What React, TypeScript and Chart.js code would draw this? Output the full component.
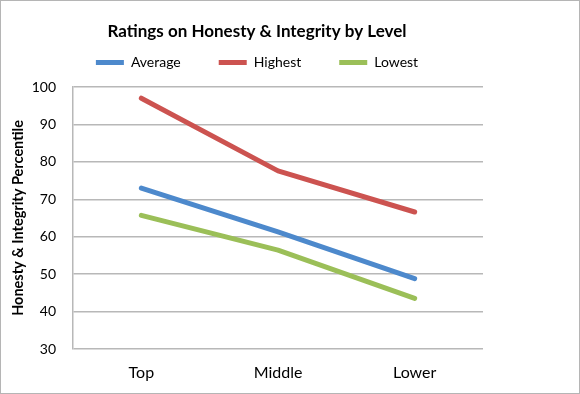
import React, { useEffect, useRef } from "react";
import { Chart, registerables } from "chart.js";

Chart.register(...registerables);

const categories = ["Top", "Middle", "Lower"];
const averageValues = [73.0, 61.3, 48.8];
const highestValues = [97.0, 77.6, 66.6];
const lowestValues = [65.7, 56.4, 43.5];
const yTicks = [30, 40, 50, 60, 70, 80, 90, 100];

const FONT = "Lato, 'Open Sans', sans-serif";

export default function App() {
  const ref = useRef<HTMLCanvasElement | null>(null);

  useEffect(() => {
    if (!ref.current) return;
    const mk = (label: string, data: number[], color: string) => ({
      label,
      data,
      borderColor: color,
      backgroundColor: color,
      borderWidth: 5,
      borderCapStyle: "round" as const,
      borderJoinStyle: "round" as const,
      pointRadius: 0,
      pointHoverRadius: 0,
      pointStyle: "line" as const,
      tension: 0,
    });
    const chart = new Chart(ref.current, {
      type: "line",
      data: {
        labels: categories,
        datasets: [
          mk("Average", averageValues, "#4d89cc"),
          mk("Highest", highestValues, "#cc5350"),
          mk("Lowest", lowestValues, "#9bbf58"),
        ],
      },
      options: {
        animation: false,
        responsive: false,
        maintainAspectRatio: false,
        layout: { padding: { left: 30, right: 96, top: 0, bottom: 11 } },
        plugins: {
          tooltip: { enabled: false },
          title: {
            display: true,
            text: "Ratings on Honesty & Integrity by Level",
            color: "#000",
            font: { family: FONT, size: 17, weight: "bold" },
            padding: { top: 20, bottom: -23.9 },
            align: "center",
          },
          subtitle: {
            display: true,
            text: "",
            font: { size: 1, lineHeight: 1 },
            padding: { top: 6.5, bottom: 0 },
          },
          legend: {
            display: true,
            weight: 1800,
            labels: {
              usePointStyle: true,
              pointStyleWidth: 28,
              boxHeight: 14,
              color: "#000",
              font: { family: FONT, size: 14 },
              padding: 38,
            },
          } as any,
        },
        scales: {
          x: {
            offset: true,
            grid: { display: false, drawTicks: false },
            border: { display: false },
            afterFit: (axis: any) => {
              axis.height = 33;
            },
            ticks: {
              color: "#000",
              font: { family: FONT, size: 16 },
              padding: 14,
            },
          },
          y: {
            min: 30,
            max: 100,
            afterBuildTicks: (axis: any) => {
              axis.ticks = yTicks.map((v) => ({ value: v }));
            },
            afterFit: (axis: any) => {
              axis.width = 42;
            },
            grid: { color: "#b8b8b8", lineWidth: 1.5, drawTicks: false },
            border: { display: true, color: "#b8b8b8", width: 1.5 },
            ticks: {
              color: "#000",
              font: { family: FONT, size: 14 },
              padding: 17,
            },
            title: {
              display: true,
              text: "Honesty & Integrity Percentile",
              color: "#000",
              font: { family: FONT, size: 14.5, weight: "bold" },
              padding: { top: -21.7, bottom: 0 },
            },
          },
        },
      },
    });
    return () => chart.destroy();
  }, []);

  return (
    <div
      style={{
        position: "fixed",
        left: 0,
        top: 0,
        width: 580,
        height: 394,
        boxSizing: "border-box",
        border: "1px solid #b5b5b5",
        background: "#fff",
      }}
    >
      <canvas ref={ref} width={578} height={392} style={{ display: "block" }} />
    </div>
  );
}
